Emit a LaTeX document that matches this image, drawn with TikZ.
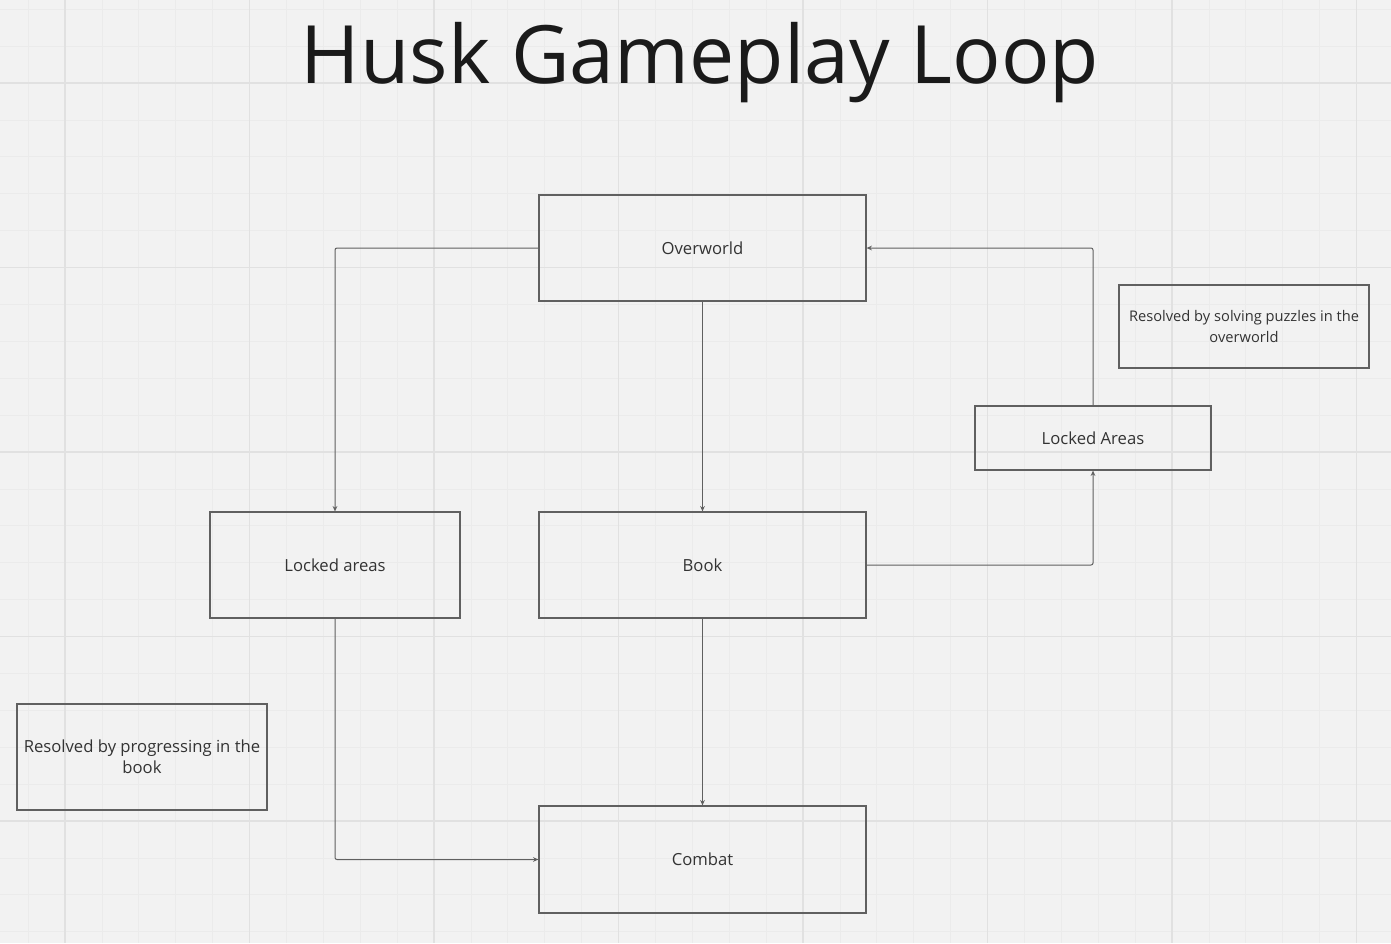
\documentclass[tikz,border=0pt]{standalone}
\usepackage{fontspec}
\setmainfont{Open Sans}
\usetikzlibrary{arrows.meta}
\definecolor{bg}{HTML}{F2F2F2}
\definecolor{gminor}{HTML}{EBEBEB}
\definecolor{gmajor}{HTML}{E1E1E1}
\definecolor{edge}{HTML}{606060}
\definecolor{txt}{HTML}{333333}
\definecolor{ttl}{HTML}{1A1A1A}
\tikzset{
  box/.style={draw=edge, line width=0.9pt, fill=none, inner sep=0pt, align=center,
    text=txt, font=\fontsize{12.5}{15}\selectfont},
  note/.style={box, font=\fontsize{12.5}{15.75}\selectfont},
  conn/.style={draw=edge, line width=0.75pt, rounded corners=1.5pt,
    -{Stealth[length=4pt,width=3.5pt]}},
}
\begin{document}
\begin{tikzpicture}[x=0.75pt,y=-0.75pt]
\useasboundingbox[fill=bg] (0,0) rectangle (1391,943);
% grid
\foreach \i in {0,...,37} {
  \draw[gminor, line width=0.6pt] ({28.1+36.9*\i},0) -- ++(0,943);
}
\foreach \i in {0,...,25} {
  \draw[gminor, line width=0.6pt] (0,{9.2+36.9*\i}) -- ++(1391,0);
}
\foreach \i in {0,...,7} {
  \draw[gmajor, line width=0.9pt] ({65+184.5*\i},0) -- ++(0,943);
}
\foreach \i in {0,...,4} {
  \draw[gmajor, line width=0.9pt] (0,{83+184.5*\i}) -- ++(1391,0);
}
% title
\node[text=ttl, font=\fontsize{60.4}{68}\selectfont, anchor=base] (title) at (700,83) {Husk Gameplay Loop};
% boxes
\node[box, minimum width=327*0.75pt, minimum height=106*0.75pt] (over) at (702.5,248) {Overworld};
\node[box, minimum width=250*0.75pt, minimum height=106*0.75pt] (lockl) at (335,565) {Locked areas};
\node[box, minimum width=327*0.75pt, minimum height=106*0.75pt] (book) at (702.5,565) {Book};
\node[box, minimum width=327*0.75pt, minimum height=107*0.75pt] (combat) at (702.5,859.5) {Combat};
\node[box, minimum width=236*0.75pt, minimum height=64*0.75pt] (lockr) at (1093,438) {Locked Areas};
\node[note, font=\fontsize{11}{15.75}\selectfont, minimum width=250*0.75pt, minimum height=83*0.75pt] (noter) at (1244,326.5) {Resolved by solving puzzles in the\\overworld};
\node[note, minimum width=250*0.75pt, minimum height=106*0.75pt] (notel) at (142,757) {Resolved by progressing in the\\book};
% connectors
\coordinate (c1) at (335,248);
\coordinate (c2) at (335,859.5);
\coordinate (c3) at (1093,565);
\coordinate (c4) at (1093,248);
\draw[conn] (over.west) -- (c1) -- (lockl.north);
\draw[conn] (over.south) -- (book.north);
\draw[conn] (lockl.south) -- (c2) -- (combat.west);
\draw[conn] (book.south) -- (combat.north);
\draw[conn] (book.east) -- (c3) -- (lockr.south);
\draw[conn] (lockr.north) -- (c4) -- (over.east);
\end{tikzpicture}
\end{document}
